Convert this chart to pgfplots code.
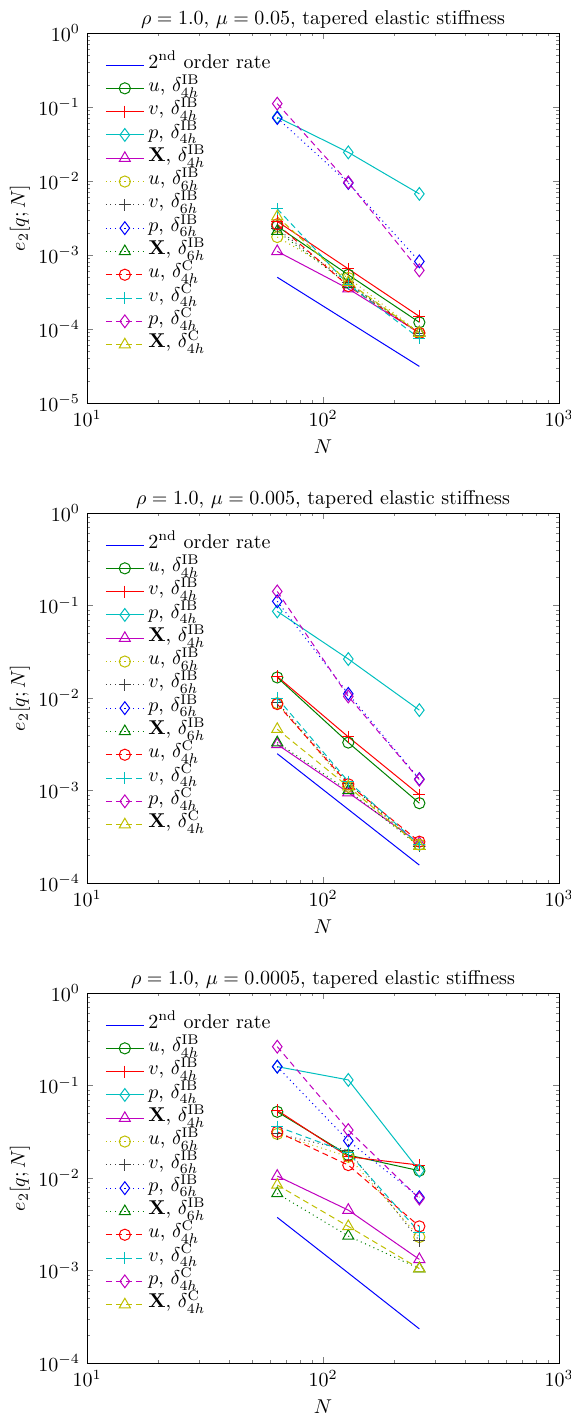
\documentclass[border=0pt]{standalone}
\usepackage{pgfplots}
\pgfplotsset{compat=1.18}

\definecolor{mblue}{rgb}{0,0,1}
\definecolor{mgreen}{rgb}{0,0.5,0}
\definecolor{mred}{rgb}{1,0,0}
\definecolor{mcyan}{rgb}{0,0.75,0.75}
\definecolor{mmag}{rgb}{0.75,0,0.75}
\definecolor{myel}{rgb}{0.75,0.75,0}
\definecolor{mblk}{rgb}{0.25,0.25,0.25}

\tikzset{
  sdot/.style={dash pattern=on 0.5pt off 1.8pt, mark options={solid}},
  sdsh/.style={dash pattern=on 3pt off 2pt, mark options={solid}},
  mo/.style={mark=o, mark size=2.8pt},
  mp/.style={mark=+, mark size=3pt},
  md/.style={mark=diamond, mark size=3.2pt},
  mt/.style={mark=triangle, mark size=3.2pt},
  sr/.style={draw=mblue, color=mblue},
  su4/.style={color=mgreen, mo},
  sv4/.style={color=mred, mp},
  sp4/.style={color=mcyan, md},
  sX4/.style={color=mmag, mt},
  su6/.style={color=myel, mo, sdot},
  sv6/.style={color=mblk, mp, sdot},
  sp6/.style={color=mblue, md, sdot},
  sX6/.style={color=mgreen, mt, sdot},
  suC/.style={color=mred, mo, sdsh},
  svC/.style={color=mcyan, mp, sdsh},
  spC/.style={color=mmag, md, sdsh},
  sXC/.style={color=myel, mt, sdsh},
}

\pgfplotsset{
  legend image code/.code={\draw[mark repeat=2,mark phase=2,#1]
    plot coordinates {(0pt,0pt) (9.5pt,0pt) (19pt,0pt)};},
  every axis plot/.append style={line width=0.5pt},
  every axis/.append style={
    scale only axis, width=236pt, height=185pt,
    xmin=10, xmax=1000, ymax=1,
    xtick={10,100,1000},
    xlabel={$N$}, ylabel={$e_2[q;N]$},
    major tick length=3pt, minor tick length=1.7pt,
    title style={yshift=-7pt},
    legend style={draw=none, fill=none, at={(0.038,0.946)}, anchor=north west,
      inner sep=0pt, cells={anchor=west}, column sep=2pt, row sep=0pt,
      nodes={inner sep=0pt, text height=7.4pt, text depth=4.25pt}},
  },
  every axis y label/.append style={at={(axis description cs:-0.142,0.5)}, anchor=center},
}

\newcommand{\mylegend}{\legend{2\textsuperscript{nd} order rate,
  {$u$, $\delta_{4h}^{\mathrm{IB}}$}, {$v$, $\delta_{4h}^{\mathrm{IB}}$},
  {$p$, $\delta_{4h}^{\mathrm{IB}}$}, {$\mathbf{X}$, $\delta_{4h}^{\mathrm{IB}}$},
  {$u$, $\delta_{6h}^{\mathrm{IB}}$}, {$v$, $\delta_{6h}^{\mathrm{IB}}$},
  {$p$, $\delta_{6h}^{\mathrm{IB}}$}, {$\mathbf{X}$, $\delta_{6h}^{\mathrm{IB}}$},
  {$u$, $\delta_{4h}^{\mathrm{C}}$}, {$v$, $\delta_{4h}^{\mathrm{C}}$},
  {$p$, $\delta_{4h}^{\mathrm{C}}$}, {$\mathbf{X}$, $\delta_{4h}^{\mathrm{C}}$}}}

\begin{document}
\begin{tikzpicture}
\useasboundingbox (0,0) rectangle (285.5pt,-707.5pt);

% mu = 0.05
\begin{loglogaxis}[at={(43.5pt,-16.5pt)}, anchor=north west,
  ymin=1e-5, ytick={1e-5,1e-4,1e-3,1e-2,1e-1,1},
  title={$\rho=1.0$, $\mu=0.05$, tapered elastic stiffness}]
\addplot[sr]  coordinates {(64,5e-4) (128,1.25e-4) (256,3.125e-5)};
\addplot[su4] coordinates {(64,2.45e-3) (128,5.4e-4) (256,1.23e-4)};
\addplot[sv4] coordinates {(64,2.85e-3) (128,6.5e-4) (256,1.48e-4)};
\addplot[sp4] coordinates {(64,0.073) (128,0.0244) (256,6.7e-3)};
\addplot[sX4] coordinates {(64,1.12e-3) (128,3.5e-4) (256,8.9e-5)};
\addplot[su6] coordinates {(64,1.75e-3) (128,4.9e-4) (256,8.9e-5)};
\addplot[sv6] coordinates {(64,2.25e-3) (128,4.2e-4) (256,8.6e-5)};
\addplot[sp6] coordinates {(64,0.071) (128,9.4e-3) (256,8.2e-4)};
\addplot[sX6] coordinates {(64,2.1e-3) (128,4.0e-4) (256,8.9e-5)};
\addplot[suC] coordinates {(64,2.6e-3) (128,3.8e-4) (256,8.8e-5)};
\addplot[svC] coordinates {(64,4.2e-3) (128,4.0e-4) (256,7.5e-5)};
\addplot[spC] coordinates {(64,0.111) (128,9.6e-3) (256,6.2e-4)};
\addplot[sXC] coordinates {(64,3.3e-3) (128,4.3e-4) (256,8.8e-5)};
\mylegend
\end{loglogaxis}

% mu = 0.005
\begin{loglogaxis}[at={(43.5pt,-256.5pt)}, anchor=north west,
  ymin=1e-4, ytick={1e-4,1e-3,1e-2,1e-1,1},
  title={$\rho=1.0$, $\mu=0.005$, tapered elastic stiffness}]
\addplot[sr]  coordinates {(64,2.5e-3) (128,6.25e-4) (256,1.5625e-4)};
\addplot[su4] coordinates {(64,0.0167) (128,3.3e-3) (256,7.3e-4)};
\addplot[sv4] coordinates {(64,0.0171) (128,3.8e-3) (256,9.0e-4)};
\addplot[sp4] coordinates {(64,0.0865) (128,0.0264) (256,7.4e-3)};
\addplot[sX4] coordinates {(64,3.15e-3) (128,9.5e-4) (256,2.7e-4)};
\addplot[su6] coordinates {(64,8.8e-3) (128,1.1e-3) (256,2.6e-4)};
\addplot[sv6] coordinates {(64,9.0e-3) (128,1.2e-3) (256,2.5e-4)};
\addplot[sp6] coordinates {(64,0.111) (128,0.0111) (256,1.33e-3)};
\addplot[sX6] coordinates {(64,3.3e-3) (128,1.0e-3) (256,2.5e-4)};
\addplot[suC] coordinates {(64,8.6e-3) (128,1.17e-3) (256,2.8e-4)};
\addplot[svC] coordinates {(64,0.0100) (128,1.25e-3) (256,2.6e-4)};
\addplot[spC] coordinates {(64,0.142) (128,0.0104) (256,1.31e-3)};
\addplot[sXC] coordinates {(64,4.6e-3) (128,1.1e-3) (256,2.5e-4)};
\mylegend
\end{loglogaxis}

% mu = 0.0005
\begin{loglogaxis}[at={(43.5pt,-496.5pt)}, anchor=north west,
  ymin=1e-4, ytick={1e-4,1e-3,1e-2,1e-1,1},
  title={$\rho=1.0$, $\mu=0.0005$, tapered elastic stiffness}]
\addplot[sr]  coordinates {(64,3.75e-3) (128,9.4e-4) (256,2.34e-4)};
\addplot[su4] coordinates {(64,0.052) (128,0.0177) (256,0.012)};
\addplot[sv4] coordinates {(64,0.054) (128,0.0170) (256,0.0138)};
\addplot[sp4] coordinates {(64,0.16) (128,0.115) (256,0.012)};
\addplot[sX4] coordinates {(64,0.0105) (128,4.5e-3) (256,1.32e-3)};
\addplot[su6] coordinates {(64,0.030) (128,0.017) (256,2.3e-3)};
\addplot[sv6] coordinates {(64,0.030) (128,0.020) (256,2.1e-3)};
\addplot[sp6] coordinates {(64,0.16) (128,0.0253) (256,6.2e-3)};
\addplot[sX6] coordinates {(64,6.8e-3) (128,2.36e-3) (256,1.05e-3)};
\addplot[suC] coordinates {(64,0.0316) (128,0.0138) (256,3.0e-3)};
\addplot[svC] coordinates {(64,0.036) (128,0.0188) (256,2.6e-3)};
\addplot[spC] coordinates {(64,0.263) (128,0.033) (256,6.0e-3)};
\addplot[sXC] coordinates {(64,8.4e-3) (128,3.0e-3) (256,1.05e-3)};
\mylegend
\end{loglogaxis}
\end{tikzpicture}
\end{document}
